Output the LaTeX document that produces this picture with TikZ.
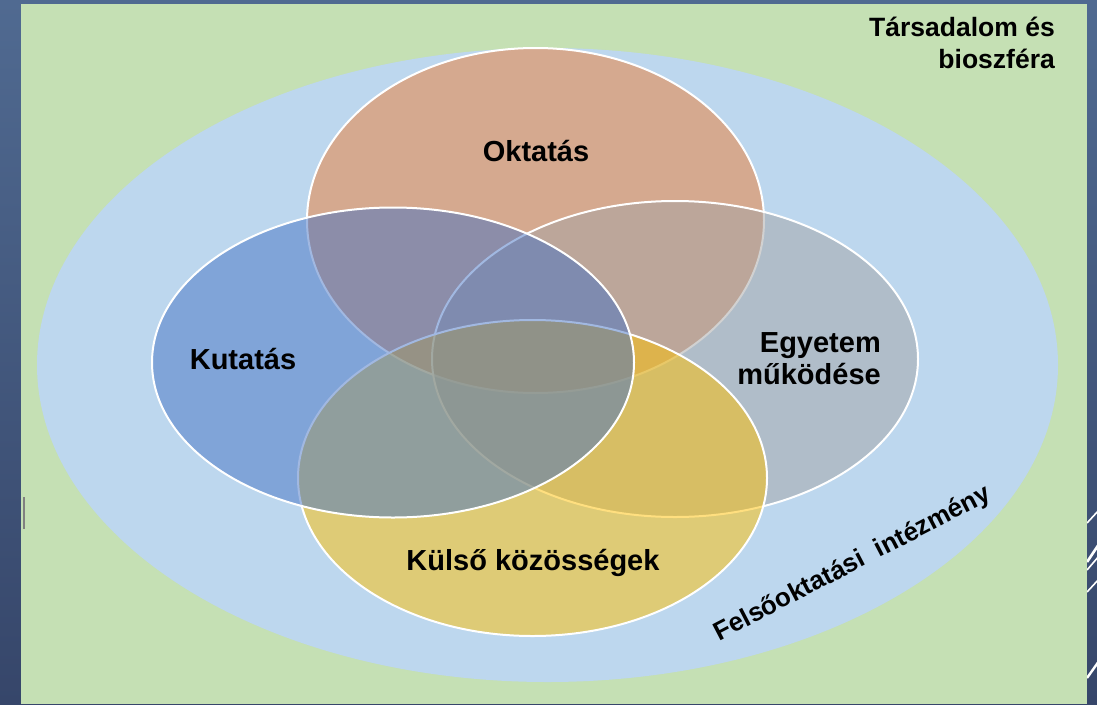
\documentclass[tikz,border=0pt]{standalone}
\usepackage{fontspec}
\setmainfont{Liberation Sans}
\begin{document}
\begin{tikzpicture}[x=1pt,y=-1pt,
  set/.style={draw=white,line width=2pt,fill opacity=0.5},
  lbl/.style={font=\fontsize{29}{32}\selectfont\bfseries,text=black,inner sep=0pt},
  deco/.style={draw=white,line width=1.6pt}]
\useasboundingbox (0,0) rectangle (1097,704);
% slide background
\shade[top color={rgb,255:red,80;green,106;blue,145},bottom color={rgb,255:red,54;green,70;blue,106}] (0,0) rectangle (1097,704);
\begin{scope}
\clip (0,0) rectangle (1097,704);
\draw[deco] (1087,523) -- (1099,510);
\draw[deco,line width=2.6pt] (1087,562) -- (1099,544);
\draw[deco] (1087,570) -- (1099,556);
\draw[deco] (1087,592) -- (1099,579);
\draw[deco,line width=2.4pt] (1087,678) -- (1099,661);
\end{scope}
% green panel
\fill[fill={rgb,255:red,197;green,224;blue,180}] (21,4) rectangle (1087,704);
\draw[draw={rgb,255:red,128;green,128;blue,128},line width=2pt] (23.5,497) -- (23.5,529);
% outer ellipse
\fill[fill={rgb,255:red,189;green,215;blue,238}] (547.5,365) ellipse [x radius=510.5, y radius=317];
% sets
\definecolor{okt}{RGB}{237,125,49}
\definecolor{kut}{RGB}{68,114,196}
\definecolor{egy}{RGB}{165,165,165}
\definecolor{kul}{RGB}{255,192,0}
\path[set,fill=okt] (535.5,220.5) ellipse [x radius=228.5, y radius=172.5];
\path[set,fill=egy] (675,359) ellipse [x radius=243, y radius=158];
\path[set,fill=kul] (532.5,478) ellipse [x radius=234.5, y radius=158];
\path[set,fill=kut] (393,362.5) ellipse [x radius=241, y radius=155];
% labels
\node[lbl] (oktatas) at (536,151) {Oktatás};
\node[lbl] (kutatas) at (243,359) {Kutatás};
\node[lbl,align=right,anchor=east] (egyetem) at (881,359) {Egyetem\\működése};
\node[lbl] (kulso) at (533,563) {Külső közösségek};
\node[lbl,align=right,anchor=north east,font=\fontsize{26.5}{32}\selectfont\bfseries] (tars) at (1055,17) {Társadalom és\\bioszféra};
\node[lbl,rotate=27.5,font=\fontsize{26}{32}\selectfont\bfseries] (felso) at (853,564) {Felsőoktatási\ \ intézmény};
\end{tikzpicture}
\end{document}
